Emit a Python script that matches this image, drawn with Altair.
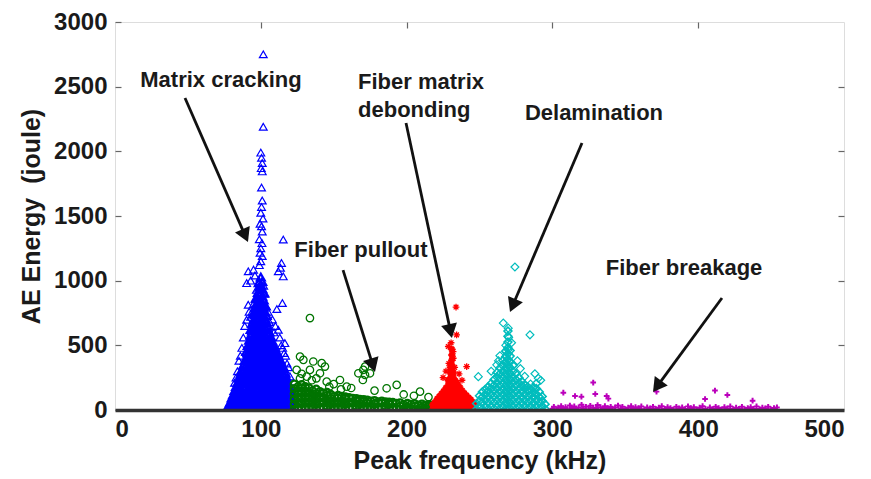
import math
import altair as alt
import pandas as pd

# ---------------- data ----------------
x_ticks = [0, 100, 200, 300, 400, 500]
y_ticks = [0, 500, 1000, 1500, 2000, 2500, 3000]

# Matrix cracking (blue triangles): dense core columns (x, energies) + sparse points
blue_core = [
    (78, [4, 38]), (79, [18, 60]), (80, [6, 45, 92]), (81, [22, 70, 118]),
    (82, [9, 55, 103, 150]), (83, [28, 82, 135, 182]), (84, [6, 57, 112, 163, 212]),
    (85, [31, 86, 141, 197, 246]), (86, [11, 62, 117, 171, 226, 276]),
    (87, [36, 92, 151, 206, 262, 312]), (88, [14, 71, 127, 182, 241, 296, 347]),
    (89, [41, 101, 161, 217, 272, 331, 382]),
    (90, [9, 66, 122, 181, 236, 292, 351, 404, 452]),
    (91, [34, 96, 151, 211, 267, 326, 386, 441, 498]),
    (92, [16, 71, 131, 186, 246, 302, 361, 421, 479, 538]),
    (93, [42, 101, 161, 221, 281, 341, 401, 462, 522, 578, 622]),
    (94, [11, 71, 131, 191, 251, 311, 372, 431, 491, 551, 611, 668]),
    (95, [36, 96, 156, 216, 276, 336, 396, 456, 516, 576, 636, 694, 741]),
    (96, [14, 76, 136, 196, 256, 316, 376, 436, 496, 556, 616, 676, 736, 788]),
    (97, [44, 104, 166, 226, 286, 346, 406, 466, 526, 586, 646, 706, 766, 824, 862]),
    (98, [21, 81, 141, 201, 261, 321, 381, 441, 501, 561, 621, 681, 741, 801, 859, 908]),
    (99, [49, 111, 171, 231, 291, 351, 411, 471, 531, 591, 651, 711, 771, 831, 889, 948, 991]),
    (100, [11, 71, 131, 191, 251, 311, 371, 431, 491, 551, 611, 671, 731, 791, 851, 911, 969, 1028]),
    (101, [39, 101, 161, 221, 281, 341, 401, 461, 521, 581, 641, 701, 761, 821, 879, 938, 994]),
    (102, [16, 76, 136, 196, 256, 316, 376, 436, 496, 556, 616, 676, 736, 794, 851, 902]),
    (103, [46, 106, 166, 226, 286, 346, 406, 466, 526, 586, 646, 704, 759, 808]),
    (104, [19, 81, 141, 201, 261, 321, 381, 441, 501, 561, 621, 679, 731]),
    (105, [51, 111, 171, 231, 291, 351, 411, 471, 529, 588, 648]),
    (106, [9, 71, 131, 191, 251, 311, 371, 431, 489, 548, 602]),
    (107, [41, 101, 161, 221, 281, 341, 401, 459, 518, 566]),
    (108, [14, 76, 136, 196, 256, 316, 376, 434, 489, 531]),
    (109, [44, 106, 166, 226, 286, 346, 404, 459, 502]),
    (110, [21, 81, 141, 201, 261, 321, 379, 429, 471]),
    (111, [49, 111, 171, 231, 291, 349, 401, 446]),
    (112, [11, 71, 131, 191, 251, 311, 369, 421]),
    (113, [39, 101, 161, 221, 281, 339, 394]),
    (114, [16, 76, 136, 196, 256, 314, 372]),
    (115, [46, 106, 166, 226, 284, 343]),
    (116, [19, 81, 141, 201, 259, 318]),
    (117, [51, 111, 171, 229, 284]),
    (118, [14, 76, 136, 194, 248]),
    (119, [41, 101, 159, 211]),
    (120, [9, 69, 128, 176]),
    (121, [34, 89, 131]),
    (122, [11, 56]),
]
blue_sparse = [
    (101.7, 2750), (101.7, 2190), (100, 1990), (100.5, 1950), (101, 1910), (100.3, 1870),
    (101, 1845), (100.5, 1720), (101, 1620), (100.5, 1570), (100, 1525), (101.5, 1480),
    (99.5, 1440), (100.5, 1420), (101, 1380), (99, 1320), (100.8, 1290), (100, 1250),
    (99.5, 1215), (101, 1190), (100, 1150), (99, 1120), (115.4, 1318), (114.2, 1137),
    (112, 1072), (115.4, 1033), (113.5, 1100), (91.4, 1072), (90.3, 981), (95, 1085),
    (96, 1040), (93, 1000), (114.8, 827), (91.4, 814), (90.3, 698), (92, 760), (93, 720),
    (111, 780), (108, 700), (110, 650), (112, 620), (109, 600), (116.5, 517), (89, 650),
    (88, 560), (87, 480), (86, 420), (85, 380), (106, 680), (104, 800), (105, 760),
    (103, 900), (102, 960), (98, 980), (97, 930), (96, 860), (95, 820), (94, 760),
    (113, 560), (115, 480), (117, 420), (119, 330), (118, 360), (120, 260), (84, 300),
    (83, 250), (82, 210), (116, 440), (114, 500),
]

# Fiber pullout (green circles)
green_core = [
    (123, [5, 45, 85, 125, 165, 200]), (125.5, [20, 60, 100, 140, 180]),
    (128, [8, 48, 88, 128, 168, 195]), (130.5, [25, 65, 105, 145, 180]),
    (133, [10, 50, 90, 130, 170]), (135.5, [28, 68, 108, 148]),
    (138, [6, 46, 86, 126, 160]), (140.5, [22, 62, 102, 142]),
    (143, [12, 52, 92, 130]), (145.5, [30, 70, 110, 135]), (148, [8, 48, 88, 120]),
    (150.5, [25, 65, 105]), (153, [10, 50, 90, 112]), (155.5, [28, 68, 104]),
    (158, [6, 46, 86, 100]), (160.5, [22, 62, 96]), (163, [12, 52, 90]),
    (165.5, [30, 70, 88]), (168, [8, 48, 82]), (170.5, [25, 65, 80]), (173, [10, 50, 76]),
    (175.5, [28, 68]), (178, [6, 46, 72]), (180.5, [22, 62]), (183, [12, 52, 68]),
    (185.5, [30, 62]), (188, [8, 45, 60]), (190.5, [22, 58]), (193, [12, 50]),
    (195.5, [28, 55]), (198, [6, 40]), (200.5, [22, 50]), (203, [10, 42]),
    (205.5, [28, 48]), (208, [6, 38]), (210.5, [20, 45]), (213, [10, 36]),
    (215.5, [25, 40]), (217.5, [8, 30]),
]
green_sparse = [
    (133.7, 711), (126.9, 413), (129.2, 388), (136, 375), (141.8, 362), (124.6, 310),
    (133.7, 310), (140.6, 284), (144, 336), (131.5, 258), (166.9, 284), (171.5, 271),
    (174.9, 284), (170.3, 310), (171.5, 336), (170, 232), (154.3, 232), (158.9, 181),
    (186.3, 168), (193.2, 194), (209.2, 142), (145.2, 219), (126.9, 245), (138.1, 245),
    (150, 200), (162, 170), (178, 150), (198, 120), (205, 110), (215, 100), (128, 280),
    (135, 230), (147, 180), (155, 160),
]

# Fiber matrix debonding (red asterisks)
red_core = [
    (218, [6, 40]), (219.5, [20, 60]), (221, [8, 45, 85]), (222.5, [25, 65, 105]),
    (224, [10, 50, 90, 125]), (225.5, [28, 68, 108, 145]), (227, [12, 52, 92, 132, 170]),
    (228.5, [30, 70, 110, 150, 190, 230]),
    (230, [8, 48, 88, 128, 168, 208, 248, 290, 330]),
    (231, [25, 65, 105, 145, 185, 225, 265, 305, 345, 385, 425, 470]),
    (232, [12, 52, 92, 132, 172, 212, 252, 290]), (233.5, [30, 70, 110, 150, 190, 225]),
    (235, [8, 48, 88, 128, 165, 200]), (236.5, [25, 65, 105, 145, 175]),
    (238, [12, 52, 92, 130, 150]), (239.5, [30, 70, 110, 130]), (241, [8, 48, 88, 112]),
    (242.5, [25, 65, 95]), (244, [10, 50, 80]), (245.5, [28, 60]), (247, [8, 40]),
]
red_sparse = [
    (233.9, 796), (234.3, 581), (228.6, 491), (241.2, 336), (231.9, 452), (230.5, 520),
    (232, 400), (229, 360), (233, 330), (236, 280), (227, 300), (225, 250), (238, 230),
]

# Delamination (cyan diamonds)
cyan_core = [
    (248, [6, 50]), (250, [22, 70, 110]), (252, [8, 55, 100, 140]), (254, [28, 75, 120, 160]),
    (256, [10, 55, 100, 145, 180]), (258, [30, 75, 120, 165, 205]),
    (260, [12, 58, 103, 148, 192, 235]), (262, [30, 75, 120, 165, 210, 255, 290]),
    (264, [10, 55, 100, 145, 190, 235, 280, 325]),
    (266, [28, 73, 118, 163, 208, 253, 298, 343, 385]),
    (268, [8, 53, 98, 143, 188, 233, 278, 323, 368, 413, 455]),
    (269.5, [30, 75, 120, 165, 210, 255, 300, 345, 390, 435, 480, 525, 570, 610]),
    (271, [12, 57, 102, 147, 192, 237, 282, 327, 372, 417, 460]),
    (273, [30, 75, 120, 165, 210, 255, 300, 345]), (275, [10, 55, 100, 145, 190, 235, 280]),
    (277, [28, 73, 118, 163, 208, 250]), (279, [8, 53, 98, 143, 188, 220]),
    (281, [30, 75, 120, 165, 195]), (283, [12, 57, 102, 147, 180]),
    (285, [28, 73, 118, 160]), (287, [8, 53, 98, 140, 175]), (289, [30, 75, 120, 165, 205]),
    (291, [10, 55, 100, 140]), (293, [28, 70, 105]), (295, [8, 45]),
]
cyan_sparse = [
    (274.3, 1106), (266.3, 672), (269.7, 633), (284.6, 581), (249.2, 258), (290.3, 245),
    (261.8, 349), (269.7, 465), (258, 300), (263, 380), (288, 280), (292, 230), (278, 320),
    (272, 520), (270, 560), (268, 500), (264, 420), (281, 260), (285, 200), (276, 380),
]

# Fiber breakage (magenta dots)
magenta_pts = [
    (300, 10), (301, 25), (303, 5), (304, 18), (306, 30), (307, 12), (309, 22), (310, 6),
    (312, 35), (313, 15), (315, 28), (316, 8), (318, 20), (320, 40), (321, 12), (323, 25),
    (325, 5), (326, 32), (328, 18), (330, 10), (331, 38), (333, 22), (335, 8), (336, 30),
    (338, 15), (340, 25), (341, 5), (343, 20), (345, 35), (347, 12), (348, 25), (350, 8),
    (352, 18), (354, 30), (355, 10), (357, 22), (359, 15), (361, 28), (363, 6), (365, 20),
    (367, 12), (369, 25), (371, 8), (373, 18), (375, 30), (377, 10), (379, 22), (381, 15),
    (383, 5), (385, 25), (387, 12), (389, 20), (391, 8), (393, 28), (395, 15), (397, 22),
    (399, 5), (401, 18), (403, 30), (405, 10), (408, 20), (410, 8), (412, 25), (414, 15),
    (416, 5), (418, 22), (420, 12), (422, 28), (424, 8), (426, 18), (428, 10), (430, 25),
    (432, 5), (434, 15), (436, 22), (438, 10), (440, 28), (442, 8), (444, 18), (446, 12),
    (448, 25), (450, 6), (452, 15), (454, 20),
    (328, 212), (307.5, 134), (315.5, 108), (319.9, 103), (329.4, 124), (337.2, 108),
    (338.4, 88), (371.4, 142), (411.5, 150), (404.7, 85), (420, 116), (437.3, 72),
]

# Annotations
labels = ["Matrix cracking", "Fiber pullout", "Delamination", "Fiber breakage"]
label_x = [72.7, 168.7, 328.5, 390.3]
label_y = [2552, 1237, 2296, 1098]
debond_label = "Fiber matrix\ndebonding"
debond_x = [166.7]
debond_y = [2536]
arrow_x0 = [48.0, 156.4, 199.6, 320.3, 416.3]
arrow_y0 = [2412, 1082, 2219, 2064, 866]
arrow_x1 = [91.2, 178.3, 231.1, 270.9, 369.0]
arrow_y1 = [1299, 294, 557, 758, 139]

# ---------------- chart ----------------
W, H = 729, 388
XMAX, YMAX = 500, 3000
FONT = "Liberation Sans"

xs = alt.Scale(domain=[0, XMAX], nice=False, zero=False)
ys = alt.Scale(domain=[0, YMAX], nice=False, zero=False)


def frame(core, sparse=()):
    rows = [(x, y) for x, yv in core for y in yv] + list(sparse)
    return pd.DataFrame(rows, columns=["freq", "energy"])


def enc(xf="freq", yf="energy"):
    return dict(x=alt.X(f"{xf}:Q", scale=xs, axis=None),
                y=alt.Y(f"{yf}:Q", scale=ys, axis=None))


def pts(df, shape, color, size, filled=False, sw=1.2):
    return alt.Chart(df).mark_point(
        shape=shape, color=color, size=size, filled=filled,
        strokeWidth=sw, opacity=1, clip=True
    ).encode(**enc())


ASTERISK = "M-1,0L1,0M0,-1L0,1M-0.7,-0.7L0.7,0.7M-0.7,0.7L0.7,-0.7"
PLUS = "M-1,-0.35L-0.35,-0.35L-0.35,-1L0.35,-1L0.35,-0.35L1,-0.35L1,0.35L0.35,0.35L0.35,1L-0.35,1L-0.35,0.35L-1,0.35Z"

BLUE, GREEN, RED, CYAN, MAG = "#0000ff", "#007400", "#ff0000", "#00bdbd", "#bb00bb"
series = [
    pts(frame(blue_core), "triangle-up", BLUE, 60, sw=2.2),
    pts(frame([], blue_sparse), "triangle-up", BLUE, 60, sw=1.2),
    pts(frame(green_core), "circle", GREEN, 52, sw=2.2),
    pts(frame([], green_sparse), "circle", GREEN, 55, sw=1.3),
    pts(frame(red_core), ASTERISK, RED, 50, sw=2.0),
    pts(frame([], red_sparse), ASTERISK, RED, 45, sw=1.3),
    pts(frame(cyan_core), "diamond", CYAN, 62, sw=1.6),
    pts(frame([], cyan_sparse), "diamond", CYAN, 62, sw=1.2),
    pts(frame([], magenta_pts), PLUS, MAG, 32, filled=True, sw=0),
]

# main axes (bottom / left)
axes_df = pd.DataFrame({"freq": [x_ticks[0]], "energy": [y_ticks[0]]})
main_axes = alt.Chart(axes_df).mark_point(opacity=0).encode(
    x=alt.X("freq:Q", scale=xs, axis=alt.Axis(
        values=x_ticks, format="d", title="Peak frequency (kHz)",
        labelFont=FONT, labelFontWeight="bold", labelFontSize=24, labelColor="#1a1a1a",
        labelPadding=7, tickSize=0, grid=False,
        domain=True, domainColor="#333333", domainWidth=3.5,
        titleFont=FONT, titleFontWeight="bold", titleFontSize=25, titleColor="#1a1a1a",
        titlePadding=7, zindex=1)),
    y=alt.Y("energy:Q", scale=ys, axis=alt.Axis(
        values=y_ticks, format="d", title="AE Energy\u00a0 (joule)",
        labelFont=FONT, labelFontWeight="bold", labelFontSize=24, labelColor="#1a1a1a",
        labelPadding=8, tickSize=6, tickColor="#666666", tickWidth=1.2, offset=-6,
        domain=False, grid=False,
        titleFont=FONT, titleFontWeight="bold", titleFontSize=25, titleColor="#1a1a1a",
        titlePadding=9)),
)

# inward ticks on top / right
frame_ticks = alt.Chart(axes_df).mark_point(opacity=0).encode(
    x=alt.X("freq:Q", scale=xs, axis=alt.Axis(
        orient="top", values=x_ticks[1:-1], labels=False, title=None, domain=False,
        tickSize=6, tickColor="#666666", tickWidth=1.2, offset=-6, grid=False)),
    y=alt.Y("energy:Q", scale=ys, axis=alt.Axis(
        orient="right", values=y_ticks[1:-1], labels=False, title=None, domain=False,
        tickSize=6, tickColor="#666666", tickWidth=1.2, offset=-6, grid=False)),
)

# arrows: shaft + head (head angle computed in pixel space)
sx, sy = W / XMAX, H / YMAX
HEAD = 260
h = math.sqrt(3) / 2 * math.sqrt(HEAD) / 2
rows = []
for x0, y0, x1, y1 in zip(arrow_x0, arrow_y0, arrow_x1, arrow_y1):
    dx, dy = (x1 - x0) * sx, -(y1 - y0) * sy
    L = math.hypot(dx, dy)
    ux, uy = dx / L, dy / L
    ang = math.degrees(math.atan2(ux, -uy)) % 360
    hx, hy = x1 - ux * h / sx, y1 + uy * h / sy
    rows.append(dict(x0=x0, y0=y0, hx=hx, hy=hy, angle=ang))
arrows_df = pd.DataFrame(rows)

shafts = alt.Chart(arrows_df).mark_rule(color="#111111", strokeWidth=2.8).encode(
    x=alt.X("x0:Q", scale=xs, axis=None), y=alt.Y("y0:Q", scale=ys, axis=None),
    x2="hx:Q", y2="hy:Q")
heads = alt.Chart(arrows_df).mark_point(
    shape="triangle-up", filled=True, size=HEAD, color="#111111", opacity=1
).encode(x=alt.X("hx:Q", scale=xs, axis=None), y=alt.Y("hy:Q", scale=ys, axis=None),
         angle=alt.Angle("angle:Q", scale=None))

lab_df = pd.DataFrame({"lx": label_x, "ly": label_y, "txt": labels})
texts = alt.Chart(lab_df).mark_text(
    font=FONT, fontWeight="bold", fontSize=22, color="#1a1a1a", align="center"
).encode(x=alt.X("lx:Q", scale=xs, axis=None), y=alt.Y("ly:Q", scale=ys, axis=None),
         text="txt:N")
deb_df = pd.DataFrame({"lx": debond_x, "ly": debond_y, "txt": [debond_label]})
debond = alt.Chart(deb_df).mark_text(
    font=FONT, fontWeight="bold", fontSize=22, color="#1a1a1a", align="left",
    lineBreak="\n", lineHeight=28
).encode(x=alt.X("lx:Q", scale=xs, axis=None), y=alt.Y("ly:Q", scale=ys, axis=None),
         text="txt:N")

chart = alt.layer(
    main_axes, frame_ticks, *series, shafts, heads, texts, debond
).resolve_axis(x="independent", y="independent").properties(
    width=W, height=H,
    autosize=alt.AutoSizeParams(type="none"),
    padding={"left": 115, "top": 22, "right": 27, "bottom": 69},
).configure_view(stroke="#808080", strokeWidth=1.6).configure(background="white")

chart.save("out.html", embed_options={"renderer": "svg", "actions": False})
